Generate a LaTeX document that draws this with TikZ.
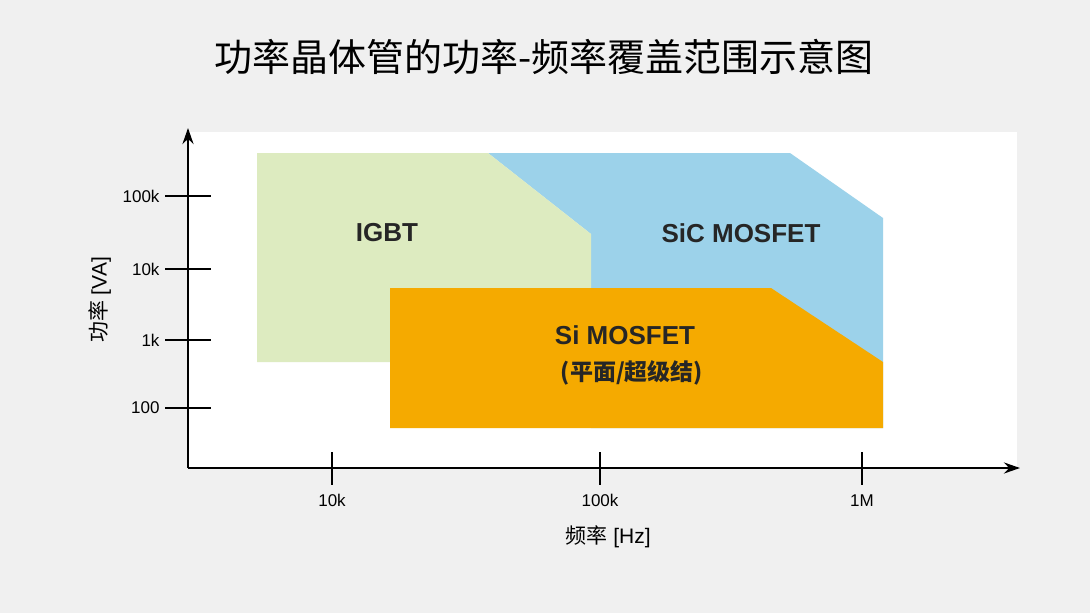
\documentclass[tikz,border=0pt]{standalone}
\usepackage{fontspec}
\setmainfont{Liberation Sans}
\newfontfamily\cjk{Noto Sans CJK SC}
\usepackage{tikz}
\usetikzlibrary{positioning,arrows.meta}
\definecolor{bgGray}{HTML}{F0F0F0}
\definecolor{igbtGreen}{HTML}{DDEBC0}
\definecolor{sicBlue}{HTML}{9CD2EA}
\definecolor{siOrange}{HTML}{F5AA00}
\begin{document}
\begin{tikzpicture}
    [x=1pt, y=-1pt,
      axis/.style={-{Stealth[length=16pt,width=11pt]}, line width=2.6pt},
      tick/.style={-, line width=2.2pt},
      ticklab/.style={font=\fontsize{17}{19}\selectfont},
      region/.style={draw=none},
      reglab/.style={font=\fontsize{26}{30}\selectfont\bfseries, text=black!85}]

    \fill[bgGray] (0,0) rectangle (1090,613);
    \useasboundingbox (0,0) rectangle (1090,613);
    \fill[white] (188,132) rectangle (1017,468);

    % regions
    \fill[region, sicBlue] (488,153) -- (790,153) -- (883,218) -- (883,428) -- (591,428) -- (591,234) -- cycle;
    \fill[region, igbtGreen] (257,153) -- (488,153) -- (591,234) -- (591,362) -- (257,362) -- cycle;
    \fill[region, siOrange] (390,288) -- (771,288) -- (883,362) -- (883,428) -- (390,428) -- cycle;

    \node (igbt) at (387,233) [reglab] {IGBT};
    \node (sic) at (741,233) [reglab] {SiC MOSFET};
    \node (si) at (625,335) [reglab] {Si MOSFET};
    \node (siSub) at (632,373) [font=\fontsize{23}{27}\selectfont\cjk\bfseries, text=black!85] {(平面/超级结)};

    % axes
    \coordinate (origin) at (188,468);
    \coordinate (ytop) at (188,128);
    \coordinate (xend) at (1020,468);
    \draw[axis] (origin) -- (ytop);
    \draw[axis] (origin) -- (xend);

    \foreach \y/\lab in {196/100k, 269/10k, 340/1k, 408/100} {
      \coordinate (ya\y) at (165,\y);
      \coordinate (yb\y) at (211,\y);
      \draw[tick] (ya\y) -- (yb\y);
      \node (yl\y) [left=2pt of ya\y, ticklab] {\lab};
    }
    \foreach \x/\lab in {332/10k, 600/100k, 862/1M} {
      \coordinate (xa\x) at (\x,452);
      \coordinate (xb\x) at (\x,485);
      \draw[tick] (xa\x) -- (xb\x);
      \node (xl\x) [below=6pt of xb\x, ticklab] {\lab};
    }

    \node (xtitle) at (608,537) [font=\fontsize{21}{25}\selectfont] {{\cjk 频率} [Hz]};
    \node (ytitle) at (100,300) [rotate=90, font=\fontsize{21}{25}\selectfont] {{\cjk 功率} [VA]};
    \node (title) at (544,57) [font=\fontsize{38}{44}\selectfont\cjk] {功率晶体管的功率-频率覆盖范围示意图};
\end{tikzpicture}
\end{document}
